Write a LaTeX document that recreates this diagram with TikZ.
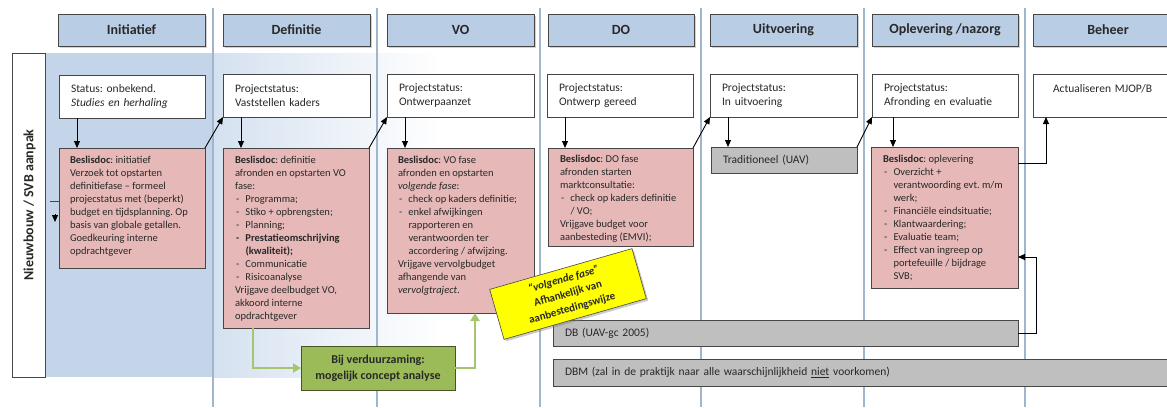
\documentclass[tikz,border=0pt]{standalone}
\usepackage{fontspec}
\setmainfont{Carlito}
\usetikzlibrary{calc,arrows.meta,shadows}
\frenchspacing
\definecolor{hdrblue}{RGB}{185,205,229}
\definecolor{bgblue}{RGB}{197,213,233}
\definecolor{bgbluetwo}{RGB}{213,225,240}
\definecolor{sepline}{RGB}{160,182,205}
\definecolor{pinkfill}{RGB}{230,185,184}
\definecolor{grayfill}{RGB}{191,191,191}
\definecolor{greenfill}{RGB}{155,187,89}
\definecolor{greenline}{RGB}{166,198,110}
\definecolor{notey}{RGB}{255,255,0}
\definecolor{edge}{RGB}{70,70,70}
\definecolor{txt}{RGB}{40,40,40}
\newcommand\itm{\makebox[10.5pt][l]{\hspace{1pt}-}}
\newcommand\cnt{\hspace*{10.5pt}}
\tikzset{
  box/.style={draw=edge, line width=0.8pt, anchor=north west, inner sep=0pt, outer sep=0pt, text=txt},
  hdr/.style={box, fill=hdrblue, minimum height=32pt, font=\fontsize{14}{16}\selectfont\bfseries,
    drop shadow={shadow xshift=1.5pt, shadow yshift=-1.5pt, opacity=0.35}},
  stat/.style={box, fill=white, minimum height=43pt, inner xsep=12pt, align=left,
    font=\fontsize{11.5}{14}\selectfont},
  pinkbox/.style={box, fill=pinkfill},
  bar/.style={box, fill=grayfill, inner xsep=12pt, align=left, font=\fontsize{11.5}{14}\selectfont},
  ptxt/.style={anchor=north west, inner sep=0pt, outer sep=0pt, align=left, text=txt,
    font=\fontsize{10.5}{13}\selectfont},
  arr/.style={line width=0.9pt, black, -{Triangle[length=7pt,width=6pt]}},
  garr/.style={line width=2.6pt, greenline, -{Triangle[length=8pt,width=9pt]}},
  sep/.style={sepline, line width=1.2pt}
}
\begin{document}
\begin{tikzpicture}[x=1pt,y=-1pt]
\clip (0,0) rectangle (1167,407);
\fill[white] (0,0) rectangle (1167,407);
% background lane
\fill[bgblue] (45,53) rectangle (214,377);
\shade[left color=bgbluetwo, right color=white] (214,53) rectangle (440,377);
% separators
\foreach \x in {213,377,540,701,864,1025} \draw[sep] (\x,8) -- (\x,407);
% lane label
\node[box, fill=white, minimum width=33pt, minimum height=324pt] (lane) at (12,53) {};
\node[rotate=90, font=\fontsize{14}{16}\selectfont\bfseries, text=txt] (lanetxt) at ($(lane.center)+(1,-10)$) {Nieuwbouw / SVB aanpak};
% headers
\node[hdr, minimum width=147pt] (h1) at (58,14) {Initiatief};
\node[hdr, minimum width=147pt] (h2) at (223,14) {Definitie};
\node[hdr, minimum width=147pt] (h3) at (387,14) {VO};
\node[hdr, minimum width=146pt] (h4) at (548,14) {DO};
\node[hdr, minimum width=147pt] (h5) at (710,14) {Uitvoering};
\node[hdr, minimum width=146pt] (h6) at (872,14) {Oplevering /nazorg};
\node[hdr, minimum width=150pt] (h7) at (1033,14) {Beheer};
% status boxes
\node[stat, text width=122pt] (s1) at (59,75) {Status: onbekend.\\\textit{Studies en herhaling}};
\node[stat, text width=123pt] (s2) at (223,74) {Projectstatus:\\Vaststellen kaders};
\node[stat, text width=123pt] (s3) at (387,74) {Projectstatus:\\Ontwerpaanzet};
\node[stat, text width=122pt] (s4) at (547,74) {Projectstatus:\\Ontwerp gereed};
\node[stat, text width=123pt] (s5) at (710,74) {Projectstatus:\\In uitvoering};
\node[stat, text width=122pt] (s6) at (872,74) {Projectstatus:\\Afronding en evaluatie};
\node[stat, inner xsep=20pt, text width=110pt] (s7) at (1033,74) {Actualiseren MJOP/B\\\mbox{}};
% pink boxes
\node[pinkbox, minimum width=146pt, minimum height=120pt] (p1) at (59,148) {};
\node[ptxt] (t1) at ($(p1.north west)+(11,8)$) {\textbf{Beslisdoc}: initiatief\\Verzoek tot opstarten\\definitiefase -- formeel\\projecstatus met (beperkt)\\budget en tijdsplanning. Op\\basis van globale getallen.\\Goedkeuring interne\\opdrachtgever};
\node[pinkbox, minimum width=146pt, minimum height=180pt] (p2) at (223,148) {};
\node[ptxt] (t2) at ($(p2.north west)+(12,8)$) {\textbf{Beslisdoc}: definitie\\afronden en opstarten VO\\fase:\\\itm Programma;\\\itm Stiko + opbrengsten;\\\itm Planning;\\\textbf{\itm Prestatieomschrijving}\\\textbf{\cnt(kwaliteit);}\\\itm Communicatie\\\itm Risicoanalyse\\Vrijgave deelbudget VO,\\akkoord interne\\opdrachtgever};
\node[pinkbox, minimum width=147pt, minimum height=165pt] (p3) at (387,148) {};
\node[ptxt] (t3) at ($(p3.north west)+(11,8)$) {\textbf{Beslisdoc}: VO fase\\afronden en opstarten\\\textit{volgende fase}:\\\itm check op kaders definitie;\\\itm enkel afwijkingen\\\cnt rapporteren en\\\cnt verantwoorden ter\\\cnt accordering / afwijzing.\\Vrijgave vervolgbudget\\afhangende van\\\textit{vervolgtraject}.};
\node[pinkbox, minimum width=145pt, minimum height=98pt] (p4) at (548,148) {};
\node[ptxt] (t4) at ($(p4.north west)+(12,7)$) {\textbf{Beslisdoc}: DO fase\\afronden starten\\marktconsultatie:\\\itm check op kaders definitie\\\cnt / VO;\\Vrijgave budget voor\\aanbesteding (EMVI);};
\node[pinkbox, minimum width=147pt, minimum height=141pt] (p6) at (871,147) {};
\node[ptxt] (t6) at ($(p6.north west)+(12,8)$) {\textbf{Beslisdoc}: oplevering\\\itm Overzicht +\\\cnt verantwoording evt. m/m\\\cnt werk;\\\itm Financiële eindsituatie;\\\itm Klantwaardering;\\\itm Evaluatie team;\\\itm Effect van ingreep op\\\cnt portefeuille / bijdrage\\\cnt SVB;};
% gray bars
\node[bar, minimum height=26pt, text width=122pt] (trad) at (711,147) {Traditioneel (UAV)};
\node[bar, minimum height=26pt, text width=441pt] (db) at (553,320) {DB (UAV-gc 2005)};
\node[bar, minimum height=27pt, text width=606pt] (dbm) at (553,359) {DBM (zal in de praktijk naar alle waarschijnlijkheid \underline{niet} voorkomen)};
% green box
\node[box, draw=black!55!greenfill, fill=greenfill, minimum width=154pt, minimum height=44pt, align=center,
  font=\fontsize{12}{16}\selectfont\bfseries] (green) at (301,346) {Bij verduurzaming:\\mogelijk concept analyse};
% down arrows
\draw[arr] ($(s1.south west)+(18,0)$) -- ($(p1.north west)+(18,0)$);
\draw[arr] ($(s2.south west)+(18,0)$) -- ($(p2.north west)+(18,0)$);
\draw[arr] ($(s3.south west)+(18,0)$) -- ($(p3.north west)+(18,0)$);
\draw[arr] ($(s4.south west)+(18,0)$) -- ($(p4.north west)+(17,0)$);
\draw[arr] ($(s5.south west)+(18,0)$) -- ($(trad.north west)+(17,0)$);
\draw[arr] ($(s6.south west)+(21,0)$) -- ($(p6.north west)+(22,0)$);
% diagonal arrows
\draw[arr] (p1.north east) -- (s2.south west);
\draw[arr] (p2.north east) -- (s3.south west);
\draw[arr] (p4.north east) -- (s5.south west);
\draw[arr] (trad.north east) -- (s6.south west);
% elbow arrows
\draw[arr] ($(p6.north east)+(0,16)$) -| ($(s7.south west)+(13,0)$);
\draw[arr] (db.east) -- ++(18,0) |- ($(p6.north east)+(0,110)$);
% stub at lane
\draw[line width=0.8pt, edge] ($(p1.west)+(-9,-7)$) -- ($(p1.west)+(0,-7)$);
\draw[arr] ($(p1.west)+(-4,6)$) -- ($(p1.west)+(-4,14)$);
% green arrows
\draw[garr] ($(p2.south west)+(30,0)$) |- (green.west);
\draw[garr] (green.east) -| ($(p3.south west)+(88,0)$);
% yellow note
\node[draw=edge, line width=0.6pt, fill=notey, rotate=16, minimum width=148pt, minimum height=52pt,
  align=center, text=txt, font=\fontsize{11}{15}\selectfont\bfseries,
  drop shadow={shadow xshift=2pt, shadow yshift=-2pt, opacity=0.4}] (note) at (568,294)
  {\textit{“volgende fase”}\\Afhankelijk van\\aanbestedingswijze};
\end{tikzpicture}
\end{document}
